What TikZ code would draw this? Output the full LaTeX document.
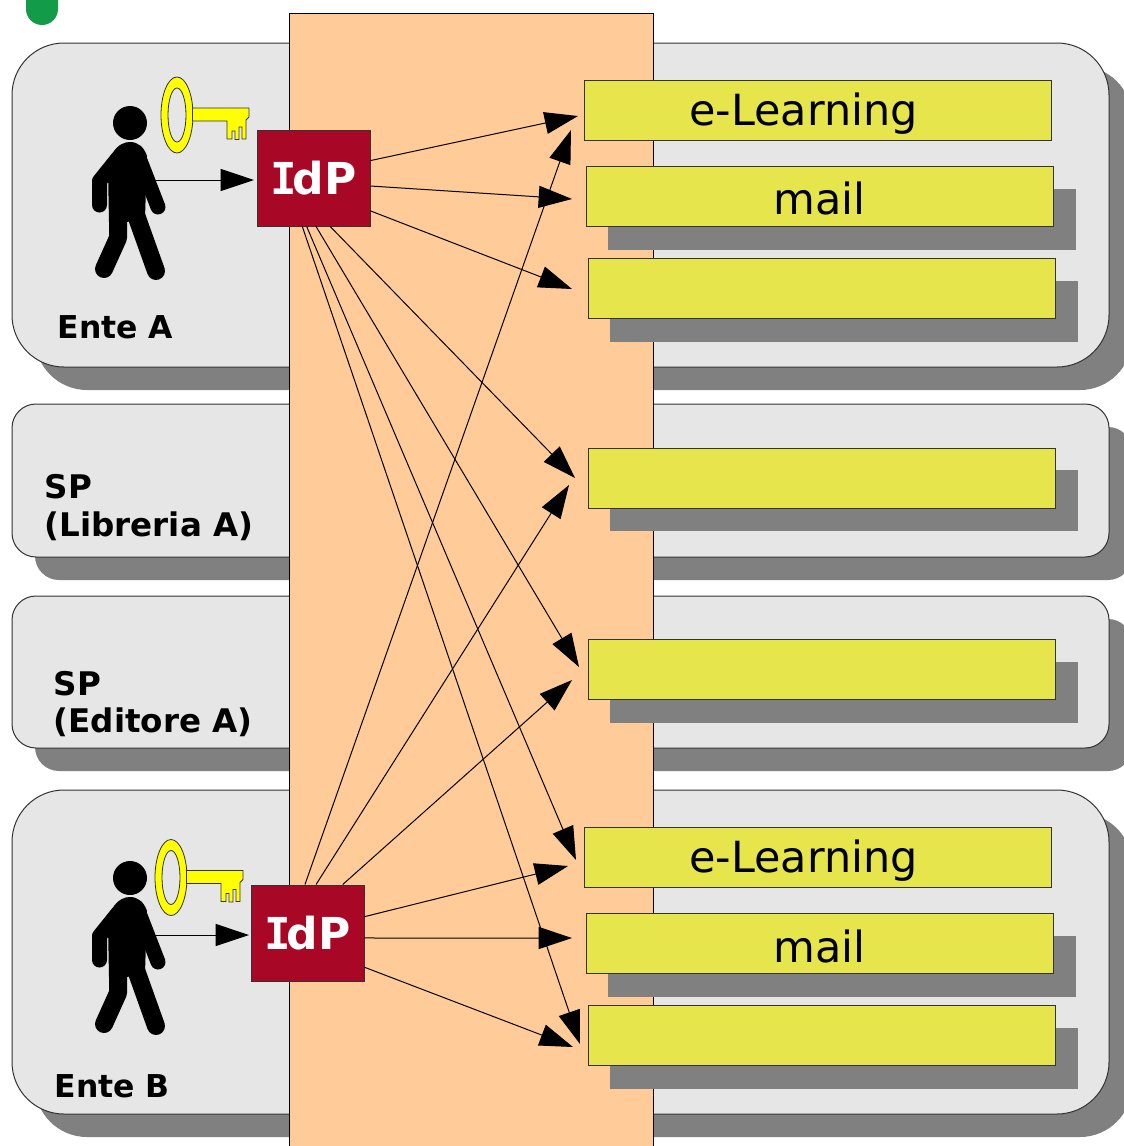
\documentclass[tikz,border=0pt]{standalone}
\usepackage{fontspec}
\setmainfont{DejaVu Sans}
\newfontfamily\idpfont{DejaVu Sans Mono}
\usetikzlibrary{arrows.meta}
\definecolor{bandgray}{HTML}{E6E6E6}
\definecolor{shadowgray}{HTML}{808080}
\definecolor{busorange}{HTML}{FFCC99}
\definecolor{svcyellow}{HTML}{E6E64C}
\definecolor{idpred}{HTML}{A80725}
\definecolor{keyyellow}{HTML}{FFFF00}
\definecolor{blobgreen}{HTML}{129C4A}
\definecolor{edgegray}{HTML}{333333}
\newcommand{\idptext}{{\idpfont\bfseries I}\kern-3pt dP}
\tikzset{
  px/.style={line width=#1*0.75pt},
  svc/.style 2 args={draw=edgegray,px=1,fill=svcyellow,inner sep=0pt,minimum width=#1*0.75pt,minimum height=#2*0.75pt},
  svctext/.style={text=black,inner sep=0pt,font=\fontsize{32.2}{36}\selectfont},
  idpbox/.style={draw=edgegray,px=1,fill=idpred,inner sep=0pt,minimum width=84.75pt,minimum height=72pt,text=white,font=\fontsize{33}{38}\selectfont\bfseries},
  lbl/.style={anchor=base west,inner sep=0pt,text=black,font=\fontsize{23.6}{28.5}\selectfont\bfseries,align=left},
  lbltwo/.style={anchor=west,inner sep=0pt,text=black,font=\fontsize{24.4}{28.4}\selectfont\bfseries,align=left},
  link/.style={draw=black,px=1,-{Triangle[length=25pt,width=16.5pt]}},
  person/.pic={
    \fill[black] (130,123) circle [radius=17];
    \fill[black] (108,170) -- (112,154) .. controls (118,144) and (125,142) .. (130,142) .. controls (138,142) and (144,147) .. (147,156) -- (145,218) -- (127,222) -- (109,222) -- cycle;
    \draw[black,px=15,line cap=round,line join=round] (99.5,205) -- (99.5,181) -- (118,158);
    \draw[black,px=15,line cap=round] (158,207) -- (139,158);
    \draw[black,px=18,line cap=round,line join=round] (104,269) -- (118,238) -- (118,215);
    \draw[black,px=18,line cap=round] (156,271) -- (136,215);
    \coordinate (-hand) at (155,180);
  },
  keyfig/.pic={
    \draw[draw=edgegray,px=0.8,fill=keyyellow,even odd rule] (177,115) ellipse [x radius=16,y radius=38] (177,115) ellipse [x radius=9,y radius=27];
    \draw[draw=edgegray,px=0.8,fill=keyyellow] (192.5,108) -- (249,108) -- (249,117) -- (246,120) -- (246,139) -- (242,139) -- (242,127) -- (239,127) -- (239,139.5) -- (235,139.5) -- (235,131) -- (232,131) -- (232,139) -- (227,139) -- (227,121) -- (192.5,121) -- cycle;
  }
}
\newcommand{\bandfig}[3]{%
  \fill[shadowgray,rounded corners=#3*0.75pt] (35,#1+23) rectangle (1132,#2+23);
  \draw[draw=edgegray,px=1,fill=bandgray,rounded corners=#3*0.75pt] (12,#1) rectangle (1109,#2);
}
\newcommand{\svcshadow}[2]{\fill[shadowgray] (#1+22.5,#2+22) rectangle (#1+490.5,#2+83);}
\begin{document}
\begin{tikzpicture}[x=0.75pt,y=-0.75pt]
\useasboundingbox (0,0) rectangle (1124,1146);
\clip (0,0) rectangle (1124,1146);
\fill[white] (0,0) rectangle (1124,1146);
% green remnant at the top
\fill[blobgreen,rounded corners=12pt] (26,-20) rectangle (58,25);
% bands
\bandfig{43}{367}{52}
\bandfig{404}{557}{24}
\bandfig{596}{748}{24}
\bandfig{790}{1114}{52}
% orange column
\draw[draw=black,px=1,fill=busorange] (289.5,13) rectangle (653,1160);
% service shadows
\svcshadow{585.5}{167}
\svcshadow{587.5}{259}
\svcshadow{587.5}{448}
\svcshadow{587.5}{640}
\svcshadow{585.5}{914}
\svcshadow{587.5}{1006}
% services
\node[svc={467}{60}] (s1) at (817.75,110) {};
\node[svc={467}{60}] (s2) at (819.5,196.5) {};
\node[svc={467}{60}] (s3) at (821.5,288.5) {};
\node[svc={467}{60}] (s4) at (821.5,478) {};
\node[svc={467}{60}] (s5) at (821.5,669.5) {};
\node[svc={467}{60}] (s6) at (817.75,857) {};
\node[svc={467}{60}] (s7) at (819.5,943.5) {};
\node[svc={467}{60}] (s8) at (821.5,1035.5) {};
\node[svctext] (t1) at (803.5,113.5) {e-Learning};
\node[svctext] (t2) at (819.5,198) {mail};
\node[svctext] (t6) at (803.5,860.5) {e-Learning};
\node[svctext] (t7) at (819.5,946) {mail};
% people and keys
\pic (pa) at (0,0) {person};
\pic (pb) at (0,755) {person};
\pic (ka) at (0,0) {keyfig};
\pic (kb) at (-6,762.5) {keyfig};
% IdP
\node[idpbox] (idpa) at (313.5,178) {\idptext};
\node[idpbox] (idpb) at (307.5,933) {\idptext};
% labels
\node[lbl] (la) at (57.5,338) {Ente A};
\node[lbl] (lb) at (54.5,1097) {Ente B};
\node[lbltwo] (lc) at (44.5,507.5) {SP\\(Libreria A)};
\node[lbltwo] (ld) at (53.5,704) {SP\\(Editore A)};
% free ends
\coordinate (e1) at (578,116);
\coordinate (e2) at (572,199);
\coordinate (e3) at (572,289);
\coordinate (e4) at (575,478);
\coordinate (e5) at (579,667);
\coordinate (e6) at (576,860);
\coordinate (e7) at (580,1044);
\coordinate (f1) at (571,130);
\coordinate (f2) at (569,485);
\coordinate (f3) at (572,680);
\coordinate (f4) at (568,866);
\coordinate (f5) at (572,938);
\coordinate (f6) at (573,1047);
\coordinate (ga) at (254,180);
\coordinate (gb) at (249,935);
% connectors
\draw[link] (pa-hand) -- (ga);
\draw[link] (pb-hand) -- (gb);
\draw[link] (idpa.17.7) -- (e1);
\draw[link] (idpa.-8) -- (e2);
\draw[link] (idpa.-30.3) -- (e3);
\draw[link] (idpa.-71) -- (e4);
\draw[link] (idpa.-87) -- (e5);
\draw[link] (idpa.-98.9) -- (e6);
\draw[link] (idpa.-103.5) -- (e7);
\draw[link] (idpb.93) -- (f1);
\draw[link] (idpb.80) -- (f2);
\draw[link] (idpb.54.3) -- (f3);
\draw[link] (idpb.16.7) -- (f4);
\draw[link] (idpb.-5) -- (f5);
\draw[link] (idpb.-31.8) -- (f6);
\end{tikzpicture}
\end{document}
